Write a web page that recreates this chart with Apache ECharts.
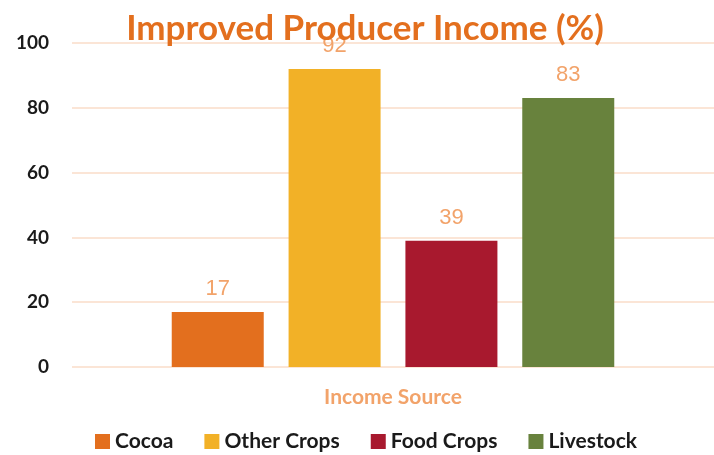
<!DOCTYPE html>
<html>
<head>
<meta charset="utf-8">
<script src="https://cdn.jsdelivr.net/npm/echarts@6/dist/echarts.min.js"></script>
<style>
  html, body { margin: 0; padding: 0; background: #fff; }
  #chart { width: 714px; height: 455px; }
</style>
</head>
<body>
<div id="chart"></div>
<script>
// data
const categories = ["Income Source"];
const seriesNames = ["Cocoa", "Other Crops", "Food Crops", "Livestock"];
const seriesValues = [[17], [92], [39], [83]];
const seriesColors = ["#E36F1E", "#F2B127", "#A8192E", "#68823D"];

const chart = echarts.init(document.getElementById("chart"));

const series = seriesNames.map((name, i) => ({
  name: name,
  type: "bar",
  data: seriesValues[i],
  barWidth: 92,
  barGap: "27%",
  itemStyle: { color: seriesColors[i] },
  label: {
    show: true,
    position: "top",
    distance: 12,
    color: "#F2A36A",
    fontFamily: "Liberation Sans",
    fontSize: 22
  }
}));

chart.setOption({
  animation: false,
  title: {
    text: "Improved Producer Income (%)",
    left: 360,
    textAlign: "center",
    top: 6,
    textStyle: {
      color: "#E36F1E",
      fontFamily: "Lato",
      fontWeight: "bold",
      fontSize: 35
    }
  },
  legend: {
    data: seriesNames,
    bottom: -2,
    left: 90,
    itemWidth: 15,
    itemHeight: 15,
    itemGap: 31,
    icon: "rect",
    textStyle: {
      color: "#1a1a1a",
      fontFamily: "Lato",
      fontWeight: "bold",
      fontSize: 21
    }
  },
  grid: {
    left: 72,
    right: 0,
    top: 43,
    bottom: 88
  },
  xAxis: {
    type: "category",
    data: categories,
    axisLine: { show: false },
    axisTick: { show: false },
    axisLabel: {
      margin: 20,
      color: "#F2A36A",
      fontFamily: "Lato",
      fontWeight: "bold",
      fontSize: 21
    }
  },
  yAxis: {
    type: "value",
    min: 0,
    max: 100,
    interval: 20,
    axisLine: { show: false },
    axisTick: { show: false },
    axisLabel: {
      margin: 23,
      color: "#1a1a1a",
      fontFamily: "Lato",
      fontWeight: "bold",
      fontSize: 19
    },
    splitLine: { lineStyle: { color: "#FBE5D6", width: 2 } }
  },
  series: series
});
</script>
</body>
</html>
